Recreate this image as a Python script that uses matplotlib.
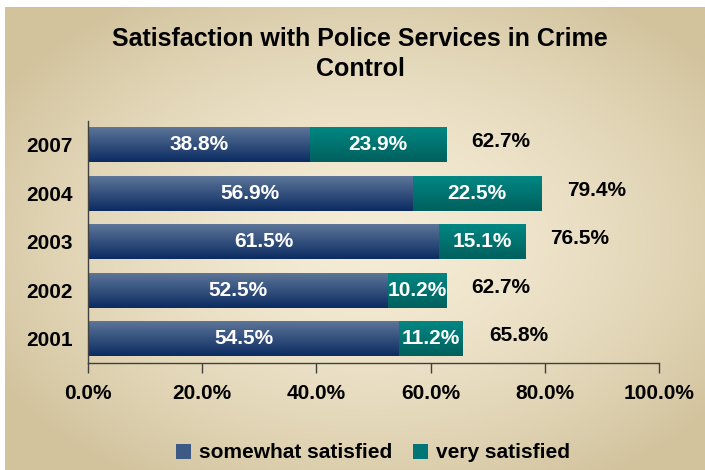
import numpy as np
import matplotlib
matplotlib.use("Agg")
import matplotlib.pyplot as plt
from matplotlib.colors import LinearSegmentedColormap, to_rgb

years = ["2001", "2002", "2003", "2004", "2007"]
somewhat = [54.5, 52.5, 61.5, 56.9, 38.8]
very = [11.2, 10.2, 15.1, 22.5, 23.9]
totals = [65.8, 62.7, 76.5, 79.4, 62.7]
xticks = [0, 20, 40, 60, 80, 100]

plt.rcParams["font.family"] = ["Liberation Sans", "DejaVu Sans"]
plt.rcParams["font.weight"] = "bold"

W, H = 705, 470
fig = plt.figure(figsize=(W / 100, H / 100), dpi=100)
fig.patch.set_facecolor("white")

# background gradient (chart area, white strip on top / left)
bg = fig.add_axes([5 / W, 0, 700 / W, 463 / H], zorder=-10)
bg.set_axis_off()
yy, xx = np.mgrid[0:1:300j, 0:1:450j]
t = np.sqrt(((xx - 0.52) / 0.62) ** 2 + ((yy - 0.5) / 0.62) ** 2)
t = np.clip(t, 0, 1) ** 1.6
c_mid = np.array(to_rgb("#f5ecd6"))
c_edge = np.array(to_rgb("#d2c39d"))
img = c_mid[None, None, :] * (1 - t[..., None]) + c_edge[None, None, :] * t[..., None]
bg.imshow(img, aspect="auto", extent=(0, 1, 0, 1), origin="lower")
bg.set_xlim(0, 1)
bg.set_ylim(0, 1)

ax = fig.add_axes([88 / W, 107 / H, 571 / W, 242.5 / H])
ax.patch.set_alpha(0)

navy = LinearSegmentedColormap.from_list("navy", ["#0b2b62", "#5c7598"])
teal = LinearSegmentedColormap.from_list("teal", ["#00605d", "#008783"])
grad = np.linspace(0, 1, 64).reshape(-1, 1)

pos = np.arange(len(years))
bh = 0.72
b1 = ax.barh(pos, somewhat, height=bh, color="#3d5a85", label="somewhat satisfied")
b2 = ax.barh(pos, very, left=somewhat, height=bh, color="#007575", label="very satisfied")

# vertical gradient inside every bar
for bars, cmap in ((b1, navy), (b2, teal)):
    for r in bars:
        x0, y0 = r.get_x(), r.get_y()
        im = ax.imshow(grad, cmap=cmap, aspect="auto", origin="lower",
                       extent=(x0, x0 + r.get_width(), y0, y0 + r.get_height()),
                       zorder=r.get_zorder() + 0.1)
        im.set_clip_path(r)

for i in range(len(years)):
    ax.text(somewhat[i] / 2, pos[i], f"{somewhat[i]:.1f}%", ha="center", va="center",
            color="white", fontsize=15, fontweight="bold", zorder=5)
    ax.text(somewhat[i] + very[i] / 2, pos[i], f"{very[i]:.1f}%", ha="center", va="center",
            color="white", fontsize=15, fontweight="bold", zorder=5)
    ax.text(totals[i] + 4.5, pos[i] + 0.06, f"{totals[i]:.1f}%", ha="left", va="center",
            color="black", fontsize=15, fontweight="bold", zorder=5)

ax.set_xlim(0, 100)
ax.set_ylim(-0.5, len(years) - 0.5)
ax.set_xticks(xticks)
ax.set_xticklabels([f"{v:.1f}%" for v in xticks], fontsize=15, fontweight="bold")
ax.set_yticks(pos)
ax.set_yticklabels(years, fontsize=15, fontweight="bold")
ax.tick_params(axis="x", length=7, width=1, color="#404040", pad=8)
ax.tick_params(axis="y", length=0, pad=11)
for s in ("top", "right"):
    ax.spines[s].set_visible(False)
for s in ("left", "bottom"):
    ax.spines[s].set_color("#404040")
    ax.spines[s].set_linewidth(1)

fig.text(360 / W, 1 - 54 / H, "Satisfaction with Police Services in Crime\nControl",
         ha="center", va="center", fontsize=18, fontweight="bold", linespacing=1.3)

fig.legend(handles=[b1, b2], loc="center", bbox_to_anchor=(373 / W, 1 - 453 / H),
           ncol=2, frameon=False, handlelength=0.7, handleheight=0.7,
           handletextpad=0.4, columnspacing=1.0, prop={"weight": "bold", "size": 15})

fig.savefig("out.png", dpi=100)
